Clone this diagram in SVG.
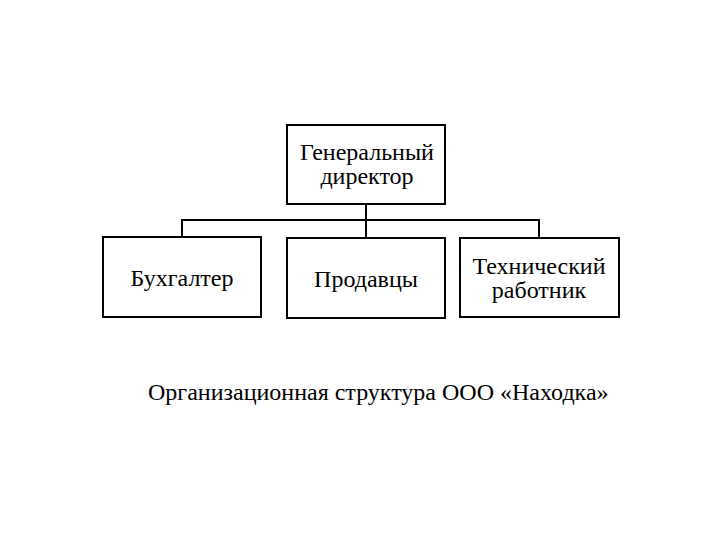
<svg xmlns="http://www.w3.org/2000/svg" width="720" height="540" viewBox="0 0 720 540">
<style>
.box{fill:#fff;stroke:#000;stroke-width:2}
.t{font-family:"Liberation Serif","Times New Roman",serif;font-size:24px;fill:#000;text-anchor:middle}
.c{fill:none;stroke:#000;stroke-width:2}
</style>
<rect width="720" height="540" fill="#fff"/>
<g id="connectors">
<path class="c" d="M366 204 V237 M182 220 H539 M182 219 V237 M539 219 V237"/>
</g>
<g id="gen">
<rect class="box" x="287" y="125" width="158" height="79"/>
<text class="t" x="367" y="160">Генеральный</text>
<text class="t" x="367" y="184">директор</text>
</g>
<g id="buh">
<rect class="box" x="103" y="237" width="158" height="80"/>
<text class="t" x="182" y="286">Бухгалтер</text>
</g>
<g id="prod">
<rect class="box" x="287" y="238" width="158" height="80"/>
<text class="t" x="366" y="287">Продавцы</text>
</g>
<g id="tech">
<rect class="box" x="460" y="238" width="159" height="79"/>
<text class="t" x="539" y="274">Технический</text>
<text class="t" x="539" y="298">работник</text>
</g>
<text x="148" y="400" style="font-family:'Liberation Serif','Times New Roman',serif;font-size:24px;fill:#000">Организационная структура ООО «Находка»</text>
</svg>
